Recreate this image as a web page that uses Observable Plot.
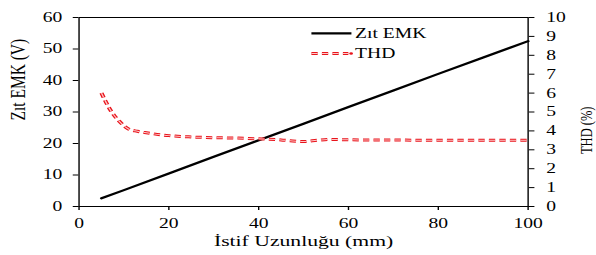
<!DOCTYPE html>
<html><head><meta charset="utf-8">
<script src="https://cdn.jsdelivr.net/npm/d3@7"></script>
<script src="https://cdn.jsdelivr.net/npm/@observablehq/plot@0.6"></script>
<style>
html,body{margin:0;padding:0;background:#fff;overflow:hidden}
#wrap{position:relative;width:426px;height:255px;transform:scaleX(1.399);transform-origin:0 0;font-family:"Liberation Serif",serif}
#wrap > svg{position:absolute;left:0;top:0}
</style></head><body><div id="wrap"></div>
<script>
// Data
const emkLength = [5, 10, 20, 30, 40, 50, 60, 70, 80, 90, 100];
const emkValues = [2.6, 5.2, 10.5, 15.8, 21.0, 26.3, 31.6, 36.8, 42.1, 47.3, 52.5];
const thdLength = [5, 7, 9, 11, 13, 15, 20, 25, 30, 35, 40, 45, 47, 50, 53, 56, 60, 65, 70, 75, 80, 85, 90, 95, 100];
const thdValues = [6.0, 5.1, 4.5, 4.1, 3.98, 3.9, 3.75, 3.68, 3.64, 3.62, 3.58, 3.52, 3.48, 3.44, 3.5, 3.55, 3.53, 3.52, 3.52, 3.51, 3.51, 3.5, 3.5, 3.5, 3.5];
const xTicks = [0, 20, 40, 60, 80, 100];
const yTicks = [0, 10, 20, 30, 40, 50, 60];
const thdTicks = [0, 1, 2, 3, 4, 5, 6, 7, 8, 9, 10];
const seriesNames = ["Zıt EMK", "THD"];
const xLabel = "İstif Uzunluğu (mm)";
const yLabel = "Zıt EMK (V)";
const y2Label = "THD (%)";

const k = 60 / 10; // right axis (0–10) mapped onto left axis (0–60)
const emk = emkLength.map((x, i) => ({x, y: emkValues[i]}));
const thd = thdLength.map((x, i) => ({x, y: thdValues[i] * k}));
const dash = "4.5,3";

const chart = Plot.plot({
  width: 426, height: 255,
  marginLeft: 56, marginRight: 49, marginTop: 17, marginBottom: 49,
  style: {fontFamily: "Liberation Serif, serif", fontSize: "14px", color: "#000", background: "transparent"},
  x: {domain: [0, 100]},
  y: {domain: [0, 60]},
  marks: [
    Plot.frame({stroke: "#000"}),
    Plot.axisX({ticks: xTicks, tickSize: 4, tickPadding: 8, label: null}),
    Plot.axisY({ticks: yTicks, tickSize: 4, tickPadding: 8, label: null}),
    Plot.axisY({anchor: "right", ticks: thdTicks.map(v => v * k), tickFormat: d => String(Math.round(d / k)), tickSize: 4, tickPadding: 9, label: null}),
    Plot.line(emk, {x: "x", y: "y", stroke: "#000", strokeWidth: 2.2}),
    Plot.line(thd, {x: "x", y: "y", curve: "monotone-x", stroke: "#e8141c", strokeWidth: 3, strokeDasharray: dash, strokeLinecap: "butt"}),
    Plot.line(thd, {x: "x", y: "y", curve: "monotone-x", stroke: "#ffc8c8", strokeWidth: 1, strokeDasharray: dash, strokeLinecap: "butt"}),
    Plot.text([yLabel], {text: d => d, frameAnchor: "left", dx: -43.5, dy: 8.5, rotate: -90, fontSize: 15.5}),
    Plot.text([y2Label], {text: d => d, frameAnchor: "right", dx: 41.5, dy: -5.5, rotate: -90, fontSize: 12.5}),
    Plot.text([xLabel], {text: d => d, frameAnchor: "bottom", dy: 39.5, fontSize: 15.5})
  ]
});
const wrap = document.getElementById("wrap");
wrap.appendChild(chart);

// Legend (inside the plot, top right)
const leg = d3.create("svg").attr("width", 426).attr("height", 255)
  .style("font-family", "Liberation Serif, serif").style("font-size", "14px");
leg.append("line").attr("x1", 222.6).attr("x2", 251.2).attr("y1", 33.3).attr("y2", 33.3)
  .attr("stroke", "#000").attr("stroke-width", 2.2);
leg.append("text").attr("x", 253.8).attr("y", 33.3).attr("dy", "0.33em").text(seriesNames[0]);
leg.append("line").attr("x1", 222.6).attr("x2", 249).attr("y1", 53.5).attr("y2", 53.5)
  .attr("stroke", "#e8141c").attr("stroke-width", 3).attr("stroke-dasharray", dash);
leg.append("line").attr("x1", 222.6).attr("x2", 249).attr("y1", 53.5).attr("y2", 53.5)
  .attr("stroke", "#ffc8c8").attr("stroke-width", 1).attr("stroke-dasharray", dash);
leg.append("circle").attr("cx", 251).attr("cy", 53.5).attr("r", 1.3).attr("fill", "#e8141c");
leg.append("text").attr("x", 253.8).attr("y", 53.5).attr("dy", "0.33em").text(seriesNames[1]);
wrap.appendChild(leg.node());
</script>
</body></html>
